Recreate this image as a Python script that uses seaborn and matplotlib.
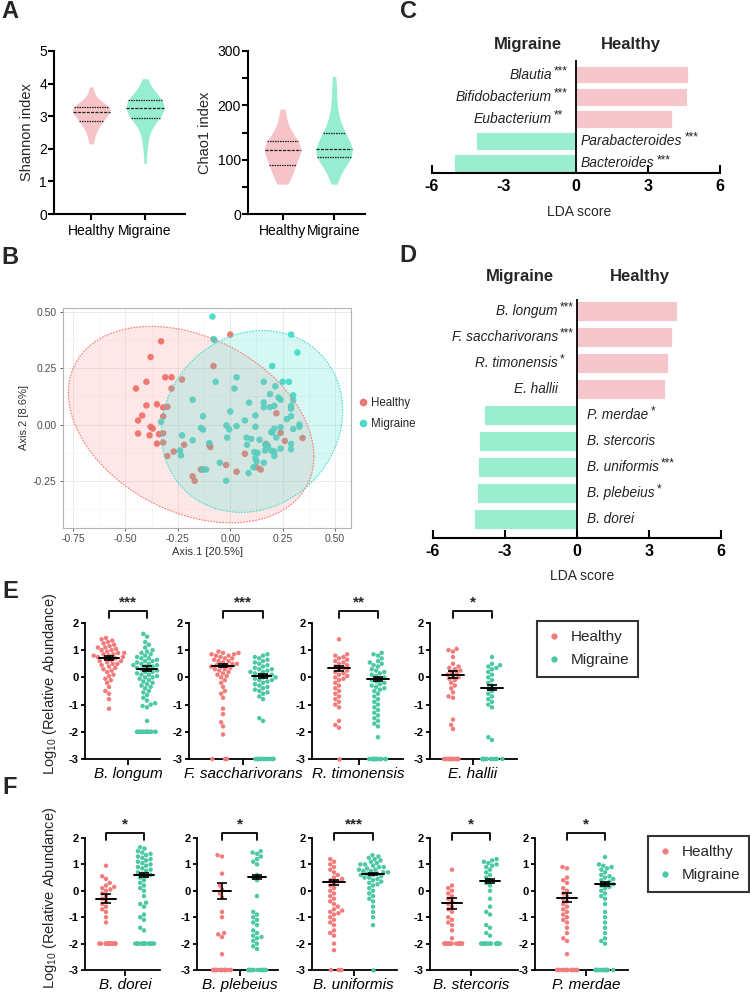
import warnings
warnings.filterwarnings('ignore')
import numpy as np
import pandas as pd
import matplotlib
matplotlib.use('Agg')
import matplotlib.pyplot as plt
import seaborn as sns
from matplotlib.lines import Line2D
from matplotlib.ticker import MultipleLocator, AutoMinorLocator

sns.set_theme(style='white')
plt.rcParams['font.family'] = ['Liberation Sans', 'DejaVu Sans']
plt.rcParams['mathtext.fontset'] = 'custom'
plt.rcParams['mathtext.rm'] = 'Liberation Sans'
plt.rcParams['mathtext.it'] = 'Liberation Sans:italic'
plt.rcParams['mathtext.bf'] = 'Liberation Sans:bold'
np.random.seed(3)

# ---------------- DATA ----------------
groups = ['Healthy', 'Migraine']

shannon_healthy = [2.15, 2.3, 2.45, 2.55, 2.62, 2.7, 2.75, 2.8, 2.83, 2.85, 2.9, 2.95, 2.98, 3.0, 3.05,
                   3.08, 3.1, 3.12, 3.13, 3.15, 3.18, 3.2, 3.22, 3.24, 3.25, 3.26, 3.28, 3.3, 3.3, 3.32,
                   3.35, 3.38, 3.45, 3.55, 3.7, 3.9]
shannon_migraine = [1.55, 2.05, 2.2, 2.45, 2.6, 2.72, 2.8, 2.88, 2.93, 2.95, 2.97, 3.0, 3.03, 3.07, 3.12,
                    3.17, 3.2, 3.23, 3.25, 3.27, 3.3, 3.33, 3.36, 3.4, 3.42, 3.45, 3.48, 3.5, 3.52, 3.55,
                    3.6, 3.65, 3.72, 3.8, 3.95, 4.15]
chao1_healthy = [55, 60, 66, 72, 78, 83, 86, 88, 92, 97, 102, 106, 110, 113, 115, 117, 117, 119, 121, 124,
                 127, 130, 133, 135, 138, 142, 148, 155, 165, 178, 193]
chao1_migraine = [55, 68, 80, 90, 96, 100, 102, 103, 105, 107, 109, 111, 113, 115, 117, 119, 119, 121, 124,
                  127, 131, 135, 140, 145, 150, 152, 158, 165, 175, 190, 210, 230, 253]

# Panel B: PCoA coordinates
pcoa_healthy_x = [-0.33, 0.00, -0.38, -0.08, -0.40, -0.31, -0.28, -0.23, -0.45, -0.28, -0.40, -0.35, -0.32,
                  -0.30, -0.42, -0.44, -0.32, -0.38, -0.37, -0.44, -0.385, -0.34, -0.32, -0.35, -0.32, -0.22,
                  -0.27, -0.30, -0.10, -0.095, 0.22, 0.24, 0.26, 0.345, 0.07, 0.17, 0.145, 0.125, -0.02, 0.03,
                  -0.14, -0.13, -0.18, -0.17]
pcoa_healthy_y = [0.37, 0.40, 0.30, 0.26, 0.19, 0.21, 0.21, 0.20, 0.16, 0.16, 0.085, 0.09, 0.076, 0.079, 0.04,
                  0.018, 0.036, -0.01, -0.018, -0.04, -0.048, -0.043, -0.039, -0.085, -0.08, -0.09, -0.12,
                  -0.14, -0.09, -0.10, 0.05, -0.037, -0.073, -0.06, -0.13, -0.086, -0.20, -0.19, -0.18, -0.21,
                  -0.20, -0.20, -0.23, -0.25]
pcoa_migraine_x = [-0.085, -0.08, -0.075, 0.29, 0.32, 0.20, -0.07, 0.03, 0.02, 0.16, 0.215, 0.25, 0.28, -0.18,
                   0.09, 0.19, 0.23, 0.24, 0.30, 0.30, 0.16, 0.16, 0.19, 0.21, 0.29, 0.29, -0.13, 0.0, 0.12,
                   0.29, 0.27, 0.33, 0.33, 0.30, -0.33, -0.14, -0.13, -0.018, -0.005, 0.03, 0.07, 0.12, -0.23,
                   -0.18, -0.015, 0.078, 0.10, 0.08, 0.14, 0.167, 0.18, 0.20, 0.21, 0.24, 0.22, 0.196, 0.24,
                   0.29, 0.29, -0.10, -0.24, -0.235, 0.115, 0.13, 0.166, 0.196, 0.21, 0.21, 0.12, 0.125, 0.16,
                   -0.05, 0.11, 0.087, -0.13, -0.115, -0.02]
pcoa_migraine_y = [0.48, 0.38, 0.375, 0.40, 0.32, 0.26, 0.19, 0.21, 0.16, 0.19, 0.17, 0.19, 0.19, 0.11, 0.097,
                   0.135, 0.12, 0.11, 0.13, 0.11, 0.098, 0.077, 0.077, 0.083, 0.083, 0.07, 0.037, 0.058, 0.04,
                   0.037, 0.024, 0.0, -0.01, -0.02, 0.012, -0.015, -0.022, -0.004, -0.022, -0.007, 0.018,
                   -0.01, -0.048, -0.07, -0.058, -0.058, -0.064, -0.09, -0.068, -0.09, -0.095, -0.036, -0.018,
                   -0.012, -0.058, -0.033, -0.107, -0.086, -0.11, -0.082, -0.115, -0.137, -0.122, -0.126,
                   -0.115, -0.116, -0.12, -0.14, -0.15, -0.164, -0.17, -0.17, -0.19, -0.216, -0.20, -0.20,
                   -0.25]

# Panel C: genus LDA
c_taxa = ['Blautia', 'Bifidobacterium', 'Eubacterium', 'Parabacteroides', 'Bacteroides']
c_lda = [4.68, 4.62, 4.02, -4.18, -5.07]
c_sig = ['***', '***', '**', '***', '***']

# Panel D: species LDA
d_taxa = ['B. longum', 'F. saccharivorans', 'R. timonensis', 'E. hallii', 'P. merdae',
          'B. stercoris', 'B. uniformis', 'B. plebeius', 'B. dorei']
d_lda = [4.17, 3.94, 3.80, 3.67, -3.88, -4.08, -4.11, -4.15, -4.28]
d_sig = ['***', '***', '*', '', '*', '', '***', '*', '']

# Panel E
e_species = ['B. longum', 'F. saccharivorans', 'R. timonensis', 'E. hallii']
e_sig = ['***', '***', '**', '*']
e_floor = [-2, -3, -3, -3]
e_healthy = [
    [1.45, 1.4, 1.35, 1.3, 1.25, 1.2, 1.15, 1.1, 1.1, 1.05, 1.0, 1.0, 0.95, 0.9, 0.9, 0.85, 0.85, 0.8, 0.8,
     0.75, 0.75, 0.7, 0.7, 0.65, 0.6, 0.6, 0.55, 0.5, 0.5, 0.45, 0.4, 0.35, 0.3, 0.25, 0.2, 0.1, 0.05,
     -0.05, -0.1, -0.2, -0.35, -0.5, -0.6, -0.8, -1.15],
    [0.95, 0.9, 0.9, 0.85, 0.85, 0.8, 0.8, 0.75, 0.7, 0.7, 0.65, 0.6, 0.6, 0.55, 0.5, 0.5, 0.45, 0.45, 0.4,
     0.4, 0.35, 0.3, 0.3, 0.25, 0.2, 0.15, 0.1, 0.05, 0.0, -0.1, -0.2, -0.35, -0.5, -0.6, -0.75, -1.15,
     -1.35, -1.65, -1.8, -2.1],
    [1.4, 0.85, 0.8, 0.75, 0.7, 0.65, 0.6, 0.55, 0.5, 0.45, 0.4, 0.35, 0.3, 0.25, 0.2, 0.15, 0.1, 0.05, 0.0,
     -0.05, -0.1, -0.2, -0.3, -0.4, -0.5, -0.6, -0.7, -0.8, -0.9, -1.0, -1.1, -1.6, -1.75, -1.85],
    [1.05, 1.0, 0.95, 0.75, 0.5, 0.4, 0.35, 0.3, 0.25, 0.2, 0.15, 0.1, 0.05, 0.0, -0.05, -0.1, -0.2, -0.3,
     -0.4, -0.55, -0.7, -0.75, -1.55, -1.75, -1.9],
]
e_migraine = [
    [1.6, 1.5, 1.3, 1.2, 1.1, 1.0, 0.95, 0.9, 0.85, 0.8, 0.75, 0.7, 0.7, 0.65, 0.6, 0.6, 0.55, 0.5, 0.5,
     0.45, 0.45, 0.4, 0.4, 0.35, 0.3, 0.3, 0.25, 0.2, 0.2, 0.15, 0.1, 0.1, 0.05, 0.0, 0.0, -0.05, -0.1,
     -0.15, -0.2, -0.25, -0.3, -0.35, -0.4, -0.5, -0.55, -0.65, -0.75, -0.85, -0.95, -1.0, -1.05, -1.1, -1.6],
    [0.85, 0.8, 0.75, 0.7, 0.65, 0.6, 0.55, 0.5, 0.45, 0.4, 0.35, 0.3, 0.3, 0.25, 0.2, 0.2, 0.15, 0.1, 0.1,
     0.05, 0.0, 0.0, -0.05, -0.1, -0.1, -0.15, -0.2, -0.25, -0.3, -0.35, -0.4, -0.45, -0.5, -0.55, -0.6,
     -0.7, -0.8, -1.5, -1.6],
    [0.9, 0.85, 0.8, 0.7, 0.6, 0.55, 0.5, 0.45, 0.4, 0.3, 0.25, 0.2, 0.15, 0.1, 0.05, 0.0, -0.05, -0.1,
     -0.15, -0.2, -0.25, -0.3, -0.35, -0.4, -0.45, -0.5, -0.6, -0.7, -0.8, -0.9, -1.0, -1.1, -1.2, -1.3,
     -1.4, -1.5, -1.6, -1.7, -1.8, -2.2],
    [0.75, 0.5, 0.45, 0.4, 0.35, 0.3, 0.2, 0.1, 0.0, -0.1, -0.2, -0.3, -0.4, -0.5, -0.6, -0.7, -0.8, -0.9,
     -1.0, -1.1, -2.2, -2.3],
]
e_healthy_floor_n = [0, 3, 1, 16]
e_migraine_floor_n = [14, 16, 16, 16]
e_healthy_mean = [0.70, 0.43, 0.33, 0.10]
e_healthy_sem = [0.07, 0.06, 0.10, 0.12]
e_migraine_mean = [0.32, 0.05, -0.05, -0.38]
e_migraine_sem = [0.10, 0.07, 0.07, 0.10]

# Panel F
f_species = ['B. dorei', 'B. plebeius', 'B. uniformis', 'B. stercoris', 'P. merdae']
f_sig = ['*', '*', '***', '*', '*']
f_floor = [-2, -3, -3, -2, -3]
f_healthy = [
    [0.95, 0.55, 0.45, 0.3, 0.2, 0.15, 0.1, 0.05, 0.0, -0.1, -0.2, -0.3, -0.4, -0.5, -0.6, -0.7, -0.8,
     -1.0, -1.2],
    [1.35, 1.3, 0.65, 0.2, 0.05, -0.1, -0.25, -0.8, -1.0, -1.6, -1.65, -1.75, -2.4],
    [1.2, 1.1, 1.0, 0.9, 0.8, 0.7, 0.6, 0.5, 0.45, 0.4, 0.35, 0.3, 0.2, 0.1, 0.0, -0.1, -0.2, -0.3, -0.4,
     -0.5, -0.6, -0.7, -0.75, -0.8, -0.85, -0.9, -1.0, -1.1, -1.2, -1.3, -1.5, -1.6, -1.7, -2.0, -2.25],
    [0.8, 0.2, 0.1, 0.0, -0.1, -0.2, -0.3, -0.4, -0.5, -0.6, -0.7, -0.8, -1.0, -1.1, -1.2, -1.3, -1.5, -1.8],
    [0.9, 0.85, 0.5, 0.4, 0.3, 0.1, 0.0, -0.1, -0.2, -0.3, -0.4, -0.5, -0.6, -0.7, -0.8, -0.9, -1.0, -1.1,
     -1.2, -1.4, -1.6, -1.8, -1.9, -2.4],
]
f_migraine = [
    [1.65, 1.6, 1.5, 1.45, 1.4, 1.35, 1.3, 1.25, 1.2, 1.15, 1.1, 1.05, 1.0, 0.95, 0.9, 0.85, 0.8, 0.75,
     0.7, 0.65, 0.6, 0.55, 0.5, 0.4, 0.3, 0.2, 0.1, 0.0, -0.2, -0.45, -0.5, -0.6, -0.9, -1.0, -1.1, -1.4, -1.5],
    [1.5, 1.45, 1.4, 1.3, 1.2, 1.1, 1.0, 0.6, 0.5, 0.4, -0.2, -0.8, -0.9, -1.0, -1.1, -1.2, -1.3, -1.5,
     -1.6, -1.7, -1.75, -1.8, -1.9, -2.0, -2.1, -2.2],
    [1.35, 1.3, 1.25, 1.2, 1.15, 1.1, 1.05, 1.0, 1.0, 0.95, 0.9, 0.9, 0.85, 0.8, 0.8, 0.75, 0.75, 0.7, 0.7,
     0.65, 0.65, 0.6, 0.6, 0.55, 0.5, 0.5, 0.45, 0.4, 0.35, 0.3, 0.25, 0.2, 0.1, 0.0, -0.1, -0.2, -0.3,
     -0.4, -0.6, -0.8, -1.0, -1.3],
    [1.2, 1.15, 1.1, 1.05, 1.0, 0.95, 0.9, 0.8, 0.7, 0.6, 0.5, 0.4, 0.3, 0.2, 0.0, -0.3, -0.6, -0.8, -0.9,
     -1.3, -1.4, -1.6, -1.7],
    [1.28, 1.0, 0.95, 0.9, 0.85, 0.8, 0.7, 0.6, 0.55, 0.5, 0.45, 0.4, 0.35, 0.3, 0.25, 0.2, 0.15, 0.1, 0.0,
     -0.1, -0.2, -0.3, -0.5, -0.8, -1.0, -1.2, -1.4, -1.6, -1.8, -1.9, -2.0],
]
f_healthy_floor_n = [16, 16, 4, 16, 16]
f_migraine_floor_n = [16, 16, 1, 16, 16]
f_healthy_mean = [-0.30, 0.00, 0.32, -0.48, -0.27]
f_healthy_sem = [0.17, 0.30, 0.10, 0.20, 0.17]
f_migraine_mean = [0.60, 0.52, 0.63, 0.38, 0.25]
f_migraine_sem = [0.09, 0.08, 0.05, 0.08, 0.08]

# ---------------- STYLE / LAYOUT ----------------
W, H = 750, 993
VIOLIN_PAL = {'Healthy': '#F5C3C8', 'Migraine': '#96EDD1'}
BAR_PAL = {'Healthy': '#F5C6CB', 'Migraine': '#9BEDD0'}
PT_PAL = {'Healthy': '#F27B7B', 'Migraine': '#4CC8A4'}
B_PAL = {'Healthy': '#EE6A64', 'Migraine': '#40D8C8'}

fig = plt.figure(figsize=(7.5, 9.93), dpi=100)


def rect(l, t, r, b):
    return [l / W, 1 - b / H, (r - l) / W, (b - t) / H]


def fx(x):
    return x / W


def fy(y):
    return 1 - y / H


def letter(x, y, s):
    fig.text(fx(x), fy(y), s, fontsize=17, fontweight='bold', ha='center', va='center')


def prism_axes(ax, lw=1.5):
    for s in ['top', 'right']:
        ax.spines[s].set_visible(False)
    for s in ['left', 'bottom']:
        ax.spines[s].set_color('black')
        ax.spines[s].set_linewidth(lw)
    ax.tick_params(axis='both', colors='black', width=lw, length=4, direction='out',
                   left=True, bottom=True)


# ---------------- PANEL A ----------------
def violin_panel(ax, h, m, ylim, yticks, ylabel, minor=None):
    df = pd.DataFrame({'group': ['Healthy'] * len(h) + ['Migraine'] * len(m), 'value': h + m})
    sns.violinplot(data=df, x='group', y='value', hue='group', palette=VIOLIN_PAL, inner='quart',
                   cut=0, linewidth=0, width=0.7, density_norm='width', saturation=1,
                   inner_kws=dict(linewidth=0.9, color='#222222'), legend=False, ax=ax)
    prism_axes(ax)
    ax.set_ylim(*ylim)
    ax.set_yticks(yticks)
    if minor is not None:
        ax.yaxis.set_minor_locator(MultipleLocator(minor))
        ax.tick_params(axis='y', which='minor', length=4, width=1.5, color='black', left=True)
    ax.set_xticks([0, 1])
    ax.set_xticklabels(groups, fontsize=10)
    ax.tick_params(axis='y', labelsize=10, pad=1)
    ax.tick_params(axis='x', pad=3)
    ax.set_xlabel('')
    ax.set_ylabel(ylabel, fontsize=10.5, labelpad=4)


axA1 = fig.add_axes(rect(54, 51, 185, 214))
violin_panel(axA1, shannon_healthy, shannon_migraine, (0, 5), [0, 1, 2, 3, 4, 5], 'Shannon index')
axA1.set_xlim(-0.69, 1.74)
axA2 = fig.add_axes(rect(248, 51, 365, 214))
violin_panel(axA2, chao1_healthy, chao1_migraine, (0, 300), [0, 100, 200, 300], 'Chao1 index', minor=50)
axA2.set_xlim(-0.67, 1.6)

# ---------------- PANEL B ----------------
axB = fig.add_axes(rect(63, 308, 351, 528))
df_b = pd.DataFrame({
    'x': pcoa_healthy_x + pcoa_migraine_x,
    'y': pcoa_healthy_y + pcoa_migraine_y,
    'group': ['Healthy'] * len(pcoa_healthy_x) + ['Migraine'] * len(pcoa_migraine_x),
})
sns.scatterplot(data=df_b, x='x', y='y', hue='group', palette=B_PAL, s=22, edgecolor='none',
                alpha=0.9, legend=False, ax=axB, zorder=3)
theta = np.linspace(0, 2 * np.pi, 300)
circle = np.vstack([np.cos(theta), np.sin(theta)])
for g, fa in [('Healthy', 0.16), ('Migraine', 0.22)]:
    sub = df_b[df_b.group == g]
    pts = sub[['x', 'y']].to_numpy()
    ctr = pts.mean(axis=0)
    chol = np.linalg.cholesky(np.cov(pts.T))
    ell = ctr[:, None] + 2.65 * chol @ circle
    col = '#F8766D' if g == 'Healthy' else '#40E0D0'
    axB.fill(ell[0], ell[1], color=col, alpha=fa, lw=0, zorder=4)
    axB.plot(ell[0], ell[1], color=col, lw=0.8, ls=(0, (1.5, 1.2)), zorder=5)
axB.set_xlim(-0.798, 0.576)
axB.set_ylim(-0.46, 0.518)
axB.set_xticks([-0.75, -0.5, -0.25, 0, 0.25, 0.5])
axB.set_xticklabels(['-0.75', '-0.50', '-0.25', '0.00', '0.25', '0.50'])
axB.set_yticks([-0.25, 0, 0.25, 0.5])
axB.set_yticklabels(['-0.25', '0.00', '0.25', '0.50'])
axB.xaxis.set_minor_locator(AutoMinorLocator(2))
axB.yaxis.set_minor_locator(AutoMinorLocator(2))
axB.grid(True, which='major', color='#EBEBEB', lw=0.7)
axB.grid(True, which='minor', color='#F4F4F4', lw=0.5)
axB.set_axisbelow(True)
for s in axB.spines.values():
    s.set_color('#B3B3B3')
    s.set_linewidth(0.8)
axB.tick_params(axis='both', which='major', colors='#4D4D4D', labelsize=7.5, length=2.5, width=0.6,
                left=True, bottom=True, pad=2)
axB.tick_params(axis='both', which='minor', length=0)
axB.set_xlabel('Axis.1 [20.5%]', fontsize=8, color='#333333', labelpad=2)
axB.set_ylabel('Axis.2 [8.6%]', fontsize=8, color='#333333', labelpad=3)
b_handles = [Line2D([], [], marker='o', ls='', color=B_PAL[g], markersize=4.5, alpha=0.9) for g in groups]
fig.legend(b_handles, groups, loc='upper left', bbox_to_anchor=(fx(357), fy(397)), frameon=False,
           fontsize=8.3, handletextpad=0.25, handlelength=1.0, labelspacing=0.75, borderpad=0,
           borderaxespad=0)


# ---------------- PANELS C / D ----------------
def lda_panel(ax, taxa, lda, sig, ylim, name_x_pos, name_x_neg, fs):
    hue = ['Healthy' if v > 0 else 'Migraine' for v in lda]
    sns.barplot(x=lda, y=taxa, hue=hue, palette=BAR_PAL, orient='h', width=0.8, dodge=False,
                saturation=1, legend=False, ax=ax, edgecolor='white', linewidth=0.6)
    ax.set_xlim(-6, 6)
    ax.set_ylim(*ylim)
    ax.axvline(0, color='black', lw=1.3, zorder=5)
    for s in ['top', 'right', 'left']:
        ax.spines[s].set_visible(False)
    ax.spines['bottom'].set_color('black')
    ax.spines['bottom'].set_linewidth(1.5)
    ax.set_yticks([])
    ax.set_ylabel('')
    ax.set_xticks([-6, -3, 0, 3, 6])
    ax.set_xticklabels(['-6', '-3', '0', '3', '6'], fontweight='bold', fontsize=11.5)
    ax.tick_params(axis='x', direction='in', length=6, width=1.5, colors='black', bottom=True, pad=4)
    for i, (name, v, s) in enumerate(zip(taxa, lda, sig)):
        if v > 0:
            t = ax.text(name_x_pos, i, name, ha='right', va='center', style='italic', fontsize=fs,
                        color='#222222')
        else:
            t = ax.text(name_x_neg, i, name, ha='left', va='center', style='italic', fontsize=fs,
                        color='#222222')
        if s:
            ax.annotate(s, xy=(1, 1), xycoords=t, xytext=(1.5, 1.5), textcoords='offset points',
                        ha='left', va='top', fontsize=8.5, color='#222222')


axC = fig.add_axes(rect(432, 60, 720, 173))
lda_panel(axC, c_taxa, c_lda, c_sig, (4.45, -0.66), -1.0, 0.2, 10)
fig.text(fx(528), fy(44), 'Migraine', fontsize=12, fontweight='bold', ha='center', va='center')
fig.text(fx(631), fy(44), 'Healthy', fontsize=12, fontweight='bold', ha='center', va='center')
fig.text(fx(579), fy(212), 'LDA score', fontsize=10, ha='center', va='center')

axD = fig.add_axes(rect(433, 299, 721, 538))
lda_panel(axD, d_taxa, d_lda, d_sig, (8.73, -0.46), -0.8, 0.42, 9.8)
fig.text(fx(520), fy(276), 'Migraine', fontsize=12, fontweight='bold', ha='center', va='center')
fig.text(fx(640), fy(276), 'Healthy', fontsize=12, fontweight='bold', ha='center', va='center')
fig.text(fx(582), fy(576), 'LDA score', fontsize=10, ha='center', va='center')


# ---------------- PANELS E / F ----------------
def abundance_panel(box, top, bottom, hv, mv, hn, mn, floor, hmean, hsem, mmean, msem, species, sig,
                    brk_top, brk_leg, star_y):
    l, r, hx, mx = box
    ax = fig.add_axes(rect(l, top, r, bottom))
    df = pd.DataFrame({'group': ['Healthy'] * len(hv) + ['Migraine'] * len(mv), 'value': hv + mv})
    sns.swarmplot(data=df, x='group', y='value', hue='group', order=groups, palette=PT_PAL, size=3.2,
                  linewidth=0, legend=False, ax=ax)
    df_floor = pd.DataFrame({'group': ['Healthy'] * hn + ['Migraine'] * mn, 'value': [floor] * (hn + mn)})
    if hn + mn > 0:
        sns.stripplot(data=df_floor, x='group', y='value', hue='group', order=groups, palette=PT_PAL,
                      size=3.2, jitter=0.28, linewidth=0, legend=False, ax=ax)
    for c in ax.collections:
        c.set_clip_on(False)
    for i, (m, s) in enumerate([(hmean, hsem), (mmean, msem)]):
        ax.errorbar(i, m, yerr=s, color='black', capsize=3.5, lw=1.2, capthick=1.2, zorder=6)
        ax.plot([i - 0.27, i + 0.27], [m, m], color='black', lw=1.4, zorder=6)
    ax.plot([0, 0, 1, 1], [brk_leg, brk_top, brk_top, brk_leg], color='black', lw=1.3, clip_on=False)
    ax.text(0.5, star_y, sig, ha='center', va='center', fontweight='bold', fontsize=11, clip_on=False)
    prism_axes(ax, lw=1.3)
    ax.set_ylim(-3, 2)
    ax.set_yticks([-3, -2, -1, 0, 1, 2])
    ax.set_yticklabels(['-3', '-2', '-1', '0', '1', '2'], fontweight='bold', fontsize=8)
    unit = mx - hx
    ax.set_xlim((l - hx) / unit, (r - hx) / unit)
    ax.set_xticks([0.5])
    ax.set_xticklabels([species], style='italic', fontsize=11)
    ax.tick_params(axis='y', length=3, pad=1.5)
    ax.tick_params(axis='x', length=4, pad=2)
    ax.set_xlabel('')
    ax.set_ylabel('')
    return ax


e_boxes = [(85, 160, 109, 147), (189, 272, 223, 263), (312, 403, 339, 378), (430, 517, 453, 492)]
for i in range(4):
    abundance_panel(e_boxes[i], 623, 759, e_healthy[i], e_migraine[i], e_healthy_floor_n[i],
                    e_migraine_floor_n[i], e_floor[i], e_healthy_mean[i], e_healthy_sem[i],
                    e_migraine_mean[i], e_migraine_sem[i], e_species[i], e_sig[i], 2.44, 2.18, 2.75)

f_boxes = [(85, 160, 106, 144), (197, 278, 222, 257), (312, 397, 334, 373), (430, 518, 452, 490),
           (535, 628, 567, 605)]
for i in range(5):
    abundance_panel(f_boxes[i], 838, 970, f_healthy[i], f_migraine[i], f_healthy_floor_n[i],
                    f_migraine_floor_n[i], f_floor[i], f_healthy_mean[i], f_healthy_sem[i],
                    f_migraine_mean[i], f_migraine_sem[i], f_species[i], f_sig[i], 2.2, 1.93, 2.5)

for y in (684, 898):
    fig.text(fx(50), fy(y), 'Log$_{10}$ (Relative Abundance)', rotation=90, ha='center', va='center',
             fontsize=10.5)

pt_handles = [Line2D([], [], marker='o', ls='', color=PT_PAL[g], markersize=3.5) for g in groups]
for (lx, ty) in [(537, 621), (648, 836)]:
    leg = fig.legend(pt_handles, groups, loc='upper left', bbox_to_anchor=(fx(lx), fy(ty)),
                     frameon=True, fancybox=False, edgecolor='black', fontsize=11, borderpad=0.6,
                     handletextpad=0.6, handlelength=1.0, labelspacing=0.6, borderaxespad=0)
    leg.get_frame().set_linewidth(1.5)

# panel letters
letter(10, 12, 'A')
letter(408, 12, 'C')
letter(10, 257, 'B')
letter(408, 255, 'D')
letter(10, 592, 'E')
letter(10, 788, 'F')

fig.savefig('out.png', dpi=100)
